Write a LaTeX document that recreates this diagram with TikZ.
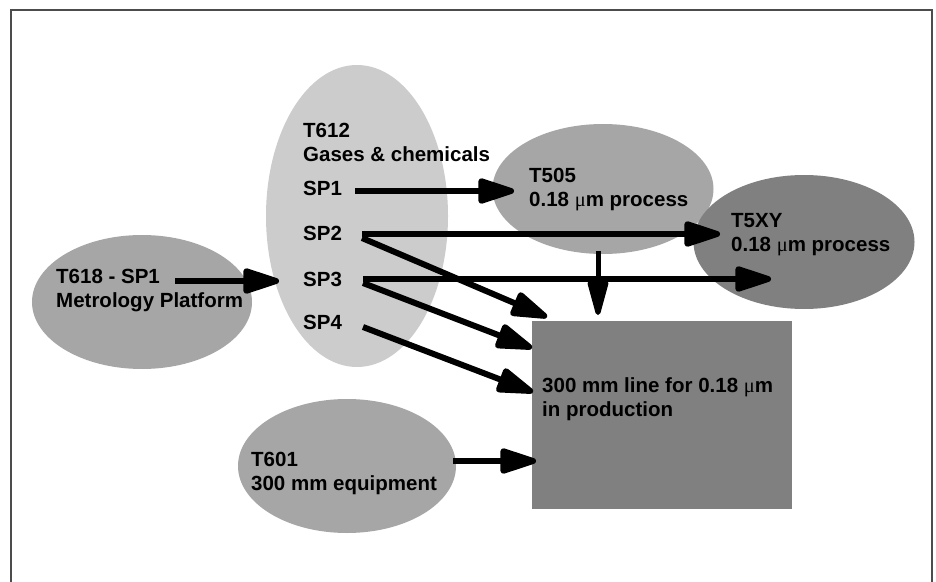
\documentclass[tikz,border=0pt]{standalone}
\usepackage{fontspec}
\setmainfont{Liberation Sans}
\newfontfamily\muserif{Liberation Serif}
\usetikzlibrary{arrows.meta,shapes.geometric}
\newcommand{\um}{{\muserif\mdseries μ}m}
\begin{document}
\begin{tikzpicture}[x=1bp,y=-1bp,
  blob/.style={ellipse,draw=none,inner sep=0pt},
  lbl/.style={anchor=base west,inner sep=0pt,align=left,
    font=\bfseries\fontsize{20.5bp}{24bp}\selectfont},
  arr/.style={line width=6bp,-{Triangle[length=43bp,width=26bp,round]}},
  arrn/.style={line width=5bp,-{Triangle[length=42bp,width=21bp,round]}}]
\useasboundingbox (0,0) rectangle (936,582);
\fill[white] (0,0) rectangle (936,582);
\draw[line width=2bp,color=black!70] (11,582) -- (11,10) -- (932,10) -- (932,582);
% shapes
\node[blob,fill=black!20,minimum width=182bp,minimum height=302bp] (t612) at (357,216) {};
\node[blob,fill=black!35,minimum width=220bp,minimum height=134bp] (t618) at (142,302) {};
\node[blob,fill=black!35,minimum width=221bp,minimum height=130bp] (t505) at (603,189) {};
\node[blob,fill=black!50,minimum width=221bp,minimum height=134bp] (t5xy) at (804,242) {};
\node[blob,fill=black!35,minimum width=218bp,minimum height=134bp] (t601) at (347,466) {};
\node[fill=black!50,draw=none,inner sep=0pt,minimum width=260bp,minimum height=188bp] (line) at (662,415) {};
% texts (anchor on the baseline of the last line)
\node[lbl] (t612t) at (303,162) {T612\\Gases \& chemicals};
\node[lbl] (sp1) at (303,196) {SP1};
\node[lbl] (sp2) at (303,241) {SP2};
\node[lbl] (sp3) at (303,286) {SP3};
\node[lbl] (sp4) at (303,329) {SP4};
\node[lbl] (t618t) at (56,307) {T618 - SP1\\Metrology Platform};
\node[lbl] (t505t) at (529,207) {T505\\0.18 \um{} process};
\node[lbl] (t5xyt) at (731,252) {T5XY\\0.18 \um{} process};
\node[lbl] (t601t) at (251,490) {T601\\300 mm equipment};
\node[lbl] (linet) at (542,416) {300 mm line for 0.18 \um\\in production};
% connector end points
\coordinate (a1s) at (175,281); \coordinate (a1e) at (279,281);
\coordinate (a2s) at (355,191); \coordinate (a2e) at (514,191);
\coordinate (a3s) at (362,234); \coordinate (a3e) at (720,234);
\coordinate (a4s) at (362,238); \coordinate (a4e) at (547,317);
\coordinate (a5s) at (363,279); \coordinate (a5e) at (771,279);
\coordinate (a6s) at (363,283); \coordinate (a6e) at (532,348);
\coordinate (a7s) at (363,327); \coordinate (a7e) at (533,392);
\coordinate (a8s) at (598,251); \coordinate (a8e) at (598,315);
\coordinate (a9s) at (453,461); \coordinate (a9e) at (536,461);
% connectors
\draw[arr] (a1s) -- (a1e);
\draw[arr] (a2s) -- (a2e);
\draw[arr] (a3s) -- (a3e);
\draw[arr] (a4s) -- (a4e);
\draw[arr] (a5s) -- (a5e);
\draw[arr] (a6s) -- (a6e);
\draw[arr] (a7s) -- (a7e);
\draw[arrn] (a8s) -- (a8e);
\draw[arr] (a9s) -- (a9e);
\end{tikzpicture}
\end{document}
